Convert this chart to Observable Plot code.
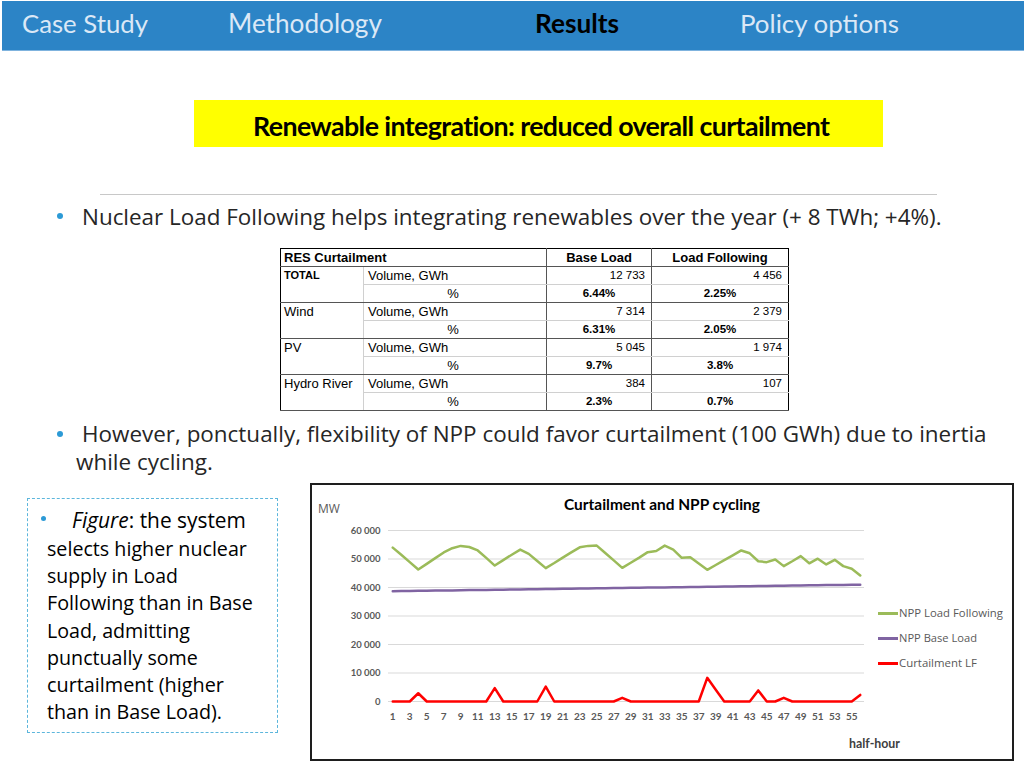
<!DOCTYPE html>
<html>
<head>
<meta charset="utf-8">
<script src="https://cdn.jsdelivr.net/npm/d3@7"></script>
<script src="https://cdn.jsdelivr.net/npm/@observablehq/plot@0.6"></script>
<style>
  html, body { margin:0; padding:0; background:#fff; }
  #slide { position:relative; width:1024px; height:768px; overflow:hidden; background:#fff; }
  .abs { position:absolute; white-space:nowrap; }
  .nav { color:#dbe8f6; font-family:Lato, sans-serif; }
  .txt { font-family:"Open Sans", sans-serif; color:#262626; }
  .dot { position:absolute; border-radius:50%; background:#2C9AD6; }
  table.res { position:absolute; left:280px; top:248px; border-collapse:collapse; table-layout:fixed;
    font-family:"Liberation Sans", Arial, sans-serif; color:#000; border:1px solid #000; }
  table.res td { height:17px; padding:0 4px; font-size:13px; line-height:17px; overflow:hidden; white-space:nowrap; }
  .dark-b { border-bottom:1px solid #555; }
  .light-b { border-bottom:1px solid #d0d0d0; }
  .vl { border-left:1px solid #d0d0d0; }
  .vd { border-left:1px solid #555; }
  .num { text-align:right; font-size:11.5px !important; padding-right:6px !important; }
  .pct { text-align:center; font-weight:bold; font-size:11.5px !important; }
</style>
</head>
<body>
<div id="slide">
  <!-- top nav bar -->
  <div class="abs" style="left:2px; top:1px; width:1022px; height:49px; background:#2C84C6; border-bottom:1px solid #7fb3de;"></div>
  <div class="abs nav fit" data-w="126" style="left:22px; top:8px; height:30px; line-height:30px; font-size:25px;">Case Study</div>
  <div class="abs nav fit" data-w="154" style="left:228px; top:8px; height:30px; line-height:30px; font-size:25px;">Methodology</div>
  <div class="abs nav fit" data-w="84" style="left:535px; top:8px; height:30px; line-height:30px; font-size:25px; color:#000; font-weight:bold;">Results</div>
  <div class="abs nav fit" data-w="159" style="left:740px; top:8px; height:30px; line-height:30px; font-size:25px;">Policy options</div>

  <!-- yellow title -->
  <div class="abs" style="left:194px; top:100px; width:689px; height:47px; background:#FFFF00;"></div>
  <div class="abs fit" data-w="573" style="left:253px; top:111px; height:30px; line-height:30px; font-family:Lato, sans-serif; font-weight:bold; font-size:24px; color:#000; letter-spacing:-0.6px;">Renewable integration: reduced overall curtailment</div>

  <div class="abs" style="left:100px; top:194px; width:837px; height:1px; background:#c8c8c8;"></div>

  <!-- bullet 1 -->
  <div class="dot" style="left:57px; top:213px; width:6px; height:6px;"></div>
  <div class="abs txt fit" data-w="860" style="left:82px; top:203px; height:28px; line-height:28px; font-size:20px;">Nuclear Load Following helps integrating renewables over the year (+ 8 TWh; +4%).</div>

  <!-- table -->
  <table class="res" id="tbl"></table>

  <!-- bullet 2 -->
  <div class="dot" style="left:57px; top:431px; width:6px; height:6px;"></div>
  <div class="abs txt fit" data-w="905" style="left:82px; top:420px; height:28px; line-height:28px; font-size:20px;">However, ponctually, flexibility of NPP could favor curtailment (100 GWh) due to inertia</div>
  <div class="abs txt fit" data-w="137" style="left:76px; top:448px; height:28px; line-height:28px; font-size:20px;">while cycling.</div>

  <!-- left dashed box -->
  <div class="abs" style="left:27px; top:498px; width:249px; height:233px; border:1.5px dashed #5cb6dc;"></div>
  <div class="dot" style="left:41px; top:516px; width:5px; height:5px;"></div>
  <div class="abs txt fit" data-w="174" style="left:72px; top:507px; height:27px; line-height:27px; font-size:19px; color:#000;"><i>Figure</i>: the system</div>
  <div class="abs txt fit" data-w="200" style="left:47px; top:535px; height:27px; line-height:27px; font-size:19px; color:#000;">selects higher nuclear</div>
  <div class="abs txt fit" data-w="131" style="left:47px; top:562px; height:27px; line-height:27px; font-size:19px; color:#000;">supply in Load</div>
  <div class="abs txt fit" data-w="206" style="left:47px; top:589px; height:27px; line-height:27px; font-size:19px; color:#000;">Following than in Base</div>
  <div class="abs txt fit" data-w="143" style="left:47px; top:617px; height:27px; line-height:27px; font-size:19px; color:#000;">Load, admitting</div>
  <div class="abs txt fit" data-w="151" style="left:47px; top:644px; height:27px; line-height:27px; font-size:19px; color:#000;">punctually some</div>
  <div class="abs txt fit" data-w="177" style="left:47px; top:671px; height:27px; line-height:27px; font-size:19px; color:#000;">curtailment (higher</div>
  <div class="abs txt fit" data-w="175" style="left:47px; top:698px; height:27px; line-height:27px; font-size:19px; color:#000;">than in Base Load).</div>

  <!-- chart box -->
  <div class="abs" style="left:310px; top:483px; width:704px; height:278px; box-sizing:border-box; border:2px solid #1e1e1e; background:#fff;"></div>
  <div id="chart" class="abs" style="left:311px; top:484px; width:702px; height:276px;"></div>
  <div class="abs" style="left:318px; top:501px; height:16px; line-height:16px; font-family:'Open Sans', sans-serif; font-size:12px; color:#595959;">MW</div>
  <div class="abs fit" data-w="196" style="left:564px; top:494px; height:20px; line-height:20px; font-family:Lato, sans-serif; font-weight:bold; font-size:16px; color:#000;">Curtailment and NPP cycling</div>
  <div id="legend"></div>
  <div class="abs fit" data-w="51" style="left:849px; top:736px; height:16px; line-height:16px; font-family:Lato, sans-serif; font-weight:bold; font-size:12px; color:#404040;">half-hour</div>
</div>

<script>
// ---------------- data ----------------
const halfHour = [1,2,3,4,5,6,7,8,9,10,11,12,13,14,15,16,17,18,19,20,21,22,23,24,25,26,27,28,
                  29,30,31,32,33,34,35,36,37,38,39,40,41,42,43,44,45,46,47,48,49,50,51,52,53,54,55,56];
const nppLoadFollowing = [
  54000, 51500, 48900, 46300, 48300, 50300, 52300, 53800,
  54600, 54200, 53000, 50400, 47700, 49600, 51500, 53300,
  51800, 49300, 46800, 48600, 50500, 52300, 54100, 54600,
  54700, 52100, 49500, 46900, 48700, 50500, 52400, 52800,
  54700, 53300, 50400, 50600, 48400, 46200, 47900, 49600,
  51300, 53000, 52000, 49200, 48900, 49800, 47500, 49200,
  51000, 48500, 50100, 48100, 49700, 47500, 46600, 44200];
const nppBaseLoad = [
  38700, 38740, 38780, 38820, 38870, 38910, 38950, 38990,
  39030, 39080, 39120, 39160, 39200, 39240, 39290, 39330,
  39370, 39410, 39450, 39500, 39540, 39580, 39620, 39660,
  39710, 39750, 39790, 39830, 39870, 39920, 39960, 40000,
  40040, 40080, 40130, 40170, 40210, 40250, 40290, 40340,
  40380, 40420, 40460, 40500, 40550, 40590, 40630, 40670,
  40710, 40760, 40800, 40840, 40880, 40920, 40970, 41000];
const curtailmentLF = [
  0, 0, 0, 2900, 0, 0, 0, 0,
  0, 0, 0, 0, 4700, 0, 0, 0,
  0, 0, 5200, 0, 0, 0, 0, 0,
  0, 0, 0, 1300, 0, 0, 0, 0,
  0, 0, 0, 0, 0, 8300, 4100, 0,
  0, 0, 0, 3900, 0, 0, 1300, 0,
  0, 0, 0, 0, 0, 0, 0, 2300];
const seriesNames = ["NPP Load Following", "NPP Base Load", "Curtailment LF"];
const seriesColors = ["#9BBB59", "#8064A2", "#FF0000"];
const legendWidths = [104, 78, 78];
const yTicks = [0, 10000, 20000, 30000, 40000, 50000, 60000];
const xTicks = [1,3,5,7,9,11,13,15,17,19,21,23,25,27,29,31,33,35,37,39,41,43,45,47,49,51,53,55];

// table data
const tableGroups = ["TOTAL", "Wind", "PV", "Hydro River"];
const baseLoadVol = ["12 733", "7 314", "5 045", "384"];
const loadFollowVol = ["4 456", "2 379", "1 974", "107"];
const baseLoadPct = ["6.44%", "6.31%", "9.7%", "2.3%"];
const loadFollowPct = ["2.25%", "2.05%", "3.8%", "0.7%"];

// ---------------- table ----------------
const tbl = document.getElementById("tbl");
let html = '<colgroup><col style="width:83px"><col style="width:183px"><col style="width:105px"><col style="width:137px"></colgroup>';
html += '<tr><td colspan="2" class="dark-b" style="font-weight:bold;padding-left:3px;height:17px">RES Curtailment</td>' +
        '<td class="dark-b vd" style="font-weight:bold;text-align:center">Base Load</td>' +
        '<td class="dark-b vd" style="font-weight:bold;text-align:center">Load Following</td></tr>';
tableGroups.forEach((g, i) => {
  const isTotal = g === "TOTAL";
  html += `<tr><td rowspan="2" class="dark-b" style="vertical-align:top;padding-left:3px;${isTotal ? 'font-weight:bold;font-size:11px' : ''}">${g}</td>` +
          `<td class="light-b vl">Volume, GWh</td>` +
          `<td class="light-b vd num">${baseLoadVol[i]}</td>` +
          `<td class="light-b vd num">${loadFollowVol[i]}</td></tr>`;
  html += `<tr><td class="dark-b vl" style="text-align:center;padding-left:0">%</td>` +
          `<td class="dark-b vd pct">${baseLoadPct[i]}</td>` +
          `<td class="dark-b vd pct">${loadFollowPct[i]}</td></tr>`;
});
tbl.innerHTML = html;

// ---------------- chart ----------------
const data = halfHour.map((h, i) => ({
  h, lf: nppLoadFollowing[i], bl: nppBaseLoad[i], cu: curtailmentLF[i]
}));
const fmt = d => d3.format(",")(d).replace(/,/g, " ");

const chart = Plot.plot({
  width: 702,
  height: 276,
  marginLeft: 77,
  marginRight: 149,
  marginTop: 46,
  marginBottom: 59,
  style: { background: "transparent", fontFamily: "Lato, sans-serif" },
  x: { domain: [0.5, 56.5] },
  y: { domain: [0, 60000] },
  marks: [
    Plot.ruleY(yTicks, { stroke: "#d9d9d9", strokeWidth: 1 }),
    Plot.axisY({ ticks: yTicks, tickSize: 0, tickPadding: 8, tickFormat: fmt,
                 fontSize: 9.5, fontWeight: "bold", fill: "#595959", label: null }),
    Plot.axisX({ ticks: xTicks, tickSize: 0, tickPadding: 11, tickFormat: d => String(d),
                 fontSize: 10, fontWeight: "bold", fill: "#595959", label: null }),
    Plot.line(data, { x: "h", y: "lf", stroke: seriesColors[0], strokeWidth: 2.5 }),
    Plot.line(data, { x: "h", y: "bl", stroke: seriesColors[1], strokeWidth: 2.5 }),
    Plot.line(data, { x: "h", y: "cu", stroke: seriesColors[2], strokeWidth: 2.5 })
  ]
});
document.getElementById("chart").appendChild(chart);

// legend
const legend = document.getElementById("legend");
seriesNames.forEach((name, i) => {
  const cy = 613 + i * 25;
  const line = document.createElement("div");
  line.className = "abs";
  line.style.cssText = `left:878px; top:${cy - 1}px; width:20px; height:2.5px; background:${seriesColors[i]};`;
  legend.appendChild(line);
  const t = document.createElement("div");
  t.className = "abs fit";
  t.dataset.w = legendWidths[i];
  t.style.cssText = `left:899px; top:${cy - 8}px; height:16px; line-height:16px; font-family:'Open Sans', sans-serif; font-size:12px; color:#595959;`;
  t.textContent = name;
  legend.appendChild(t);
});

// fit widths of text lines
document.querySelectorAll(".fit").forEach(el => {
  const target = +el.dataset.w;
  const fs = parseFloat(getComputedStyle(el).fontSize);
  const w = el.getBoundingClientRect().width;
  if (w > 0) el.style.fontSize = (fs * target / w) + "px";
});
</script>
</body>
</html>
